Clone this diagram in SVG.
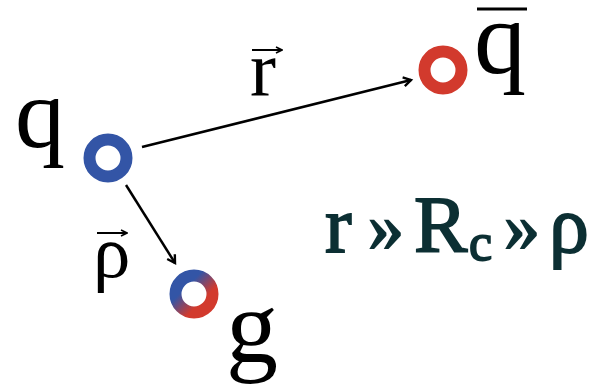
<svg xmlns="http://www.w3.org/2000/svg" width="607" height="387" viewBox="0 0 607 387">
<defs>
<linearGradient id="gq" x1="0" y1="0" x2="1" y2="1">
<stop offset="0.3" stop-color="#3355a6"/>
<stop offset="0.7" stop-color="#d23a2d"/>
</linearGradient>
<marker id="ah" markerWidth="12" markerHeight="12" refX="9" refY="6" orient="auto" markerUnits="userSpaceOnUse" viewBox="0 0 12 12">
<path d="M1.5,1.5 L9,6 L1.5,10.5" fill="none" stroke="#000" stroke-width="2.4"/>
</marker>
<marker id="ahs" markerWidth="8" markerHeight="8" refX="7" refY="4" orient="auto" markerUnits="userSpaceOnUse" viewBox="0 0 8 8">
<path d="M1,1 L7,4 L1,7" fill="none" stroke="#000" stroke-width="1.6"/>
</marker>
</defs>
<style>
.lbl{font-family:"Liberation Serif","DejaVu Serif",serif;fill:#000}
.ring{fill:none;stroke-width:12}
.conn{stroke:#000;stroke-width:2.5;fill:none}
.vec{stroke:#000;stroke-width:2;fill:none}
.rel{font-family:"Liberation Serif","DejaVu Serif",serif;fill:#0c2f33;stroke:#0c2f33;stroke-width:1.8}
</style>
<rect width="607" height="387" fill="#fff"/>
<g id="connectors">
<line class="conn" x1="142" y1="147" x2="411" y2="80" marker-end="url(#ah)"/>
<line class="conn" x1="126" y1="185" x2="175" y2="263" marker-end="url(#ah)"/>
</g>
<g id="node-q">
<circle class="ring" cx="108" cy="158" r="18.5" stroke="#3355a6"/>
<text class="lbl" x="15" y="147" font-size="100">q</text>
</g>
<g id="node-qbar">
<circle class="ring" cx="443" cy="70" r="18.5" stroke="#d23a2d"/>
<line x1="477" y1="9" x2="527" y2="9" stroke="#000" stroke-width="3"/>
<text class="lbl" x="474" y="73" font-size="104">q</text>
</g>
<g id="node-g">
<circle class="ring" cx="194" cy="294" r="18.5" stroke="url(#gq)"/>
<text class="lbl" x="226" y="362" font-size="104">g</text>
</g>
<g id="label-r">
<line class="vec" x1="252" y1="50" x2="282" y2="50" marker-end="url(#ahs)"/>
<text class="lbl" x="250" y="95" font-size="78">r</text>
</g>
<g id="label-rho">
<line class="vec" x1="97" y1="233" x2="127" y2="233" marker-end="url(#ahs)"/>
<text class="lbl" x="93" y="277" font-size="75">ρ</text>
</g>
<g id="relation">
<text class="rel" x="325" y="252" font-size="80">r</text>
<text class="rel" x="368" y="251" font-size="72">»</text>
<text class="rel" x="414" y="252" font-size="80">R</text>
<text class="rel" x="469" y="260" font-size="52">c</text>
<text class="rel" x="504" y="251" font-size="72">»</text>
<text class="rel" x="549" y="252" font-size="80">ρ</text>
</g>
</svg>
